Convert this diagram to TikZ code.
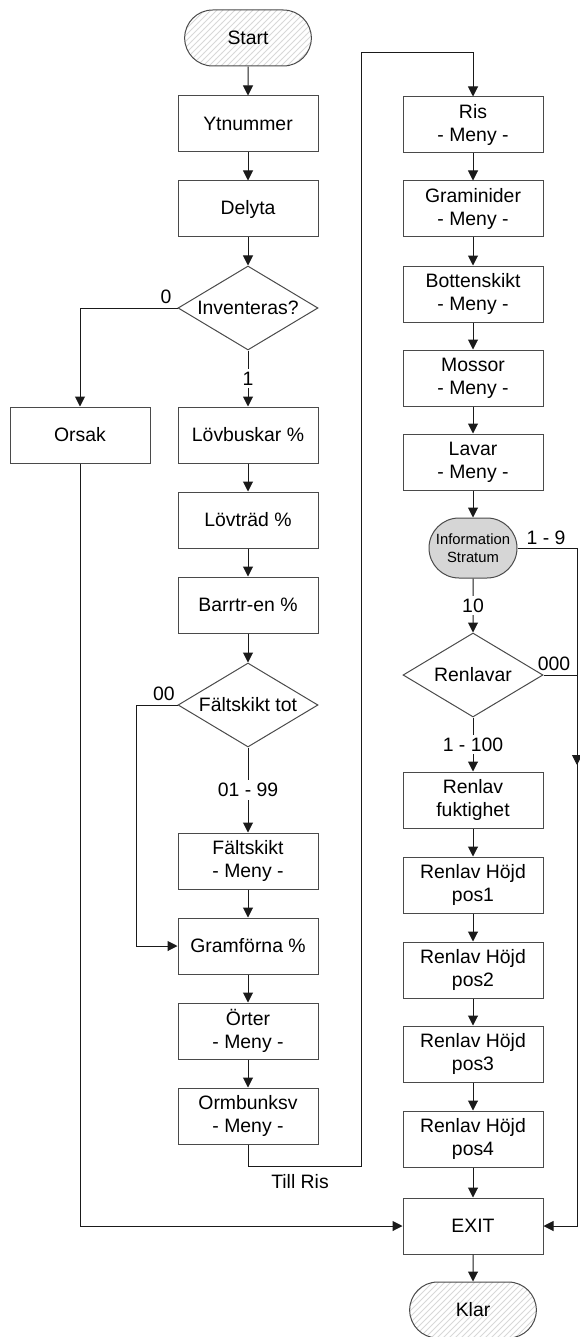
\documentclass[tikz,border=0pt]{standalone}
\usepackage{fontspec}
\setmainfont{Liberation Sans}
\usetikzlibrary{arrows.meta, shapes.geometric, shapes.misc, patterns}
\definecolor{cline}{HTML}{1A1A1A}
\definecolor{cedge}{HTML}{4A4A4A}
\definecolor{chatch}{HTML}{D8D8D8}
\definecolor{cinfo}{HTML}{D6D6D6}
\tikzset{
  every picture/.style={line width=0.5pt},
  every node/.style={font=\fontsize{9.7}{11.5}\selectfont},
  proc/.style={draw=cedge, rectangle, align=center, minimum width=70pt, minimum height=28pt, inner sep=1pt},
  term/.style={draw=cedge, rounded rectangle, pattern=north east lines, pattern color=chatch, minimum width=70pt, minimum height=28pt},
  info/.style={draw=cedge, rounded rectangle, fill=cinfo, align=center, minimum width=46pt, minimum height=30pt, inner sep=1pt, font=\fontsize{7.4}{9}\selectfont},
  dec/.style={draw=cedge, diamond, aspect=1.667, minimum width=70pt, minimum height=42pt, inner sep=0pt},
  arrow/.style={-{Triangle[length=5pt, width=5pt]}, draw=cline},
  lbl/.style={fill=white, inner sep=1.5pt},
}
\begin{document}
\begin{tikzpicture}[x=0.5pt, y=-0.5pt]
  \useasboundingbox (0,0) rectangle (579,1337);

  % left column
  \node[term] (start) at (248,38)   {Start};
  \node[proc] (ytn)   at (248,124)  {Ytnummer};
  \node[proc] (del)   at (248,209)  {Delyta};
  \node[dec]  (inv)   at (248,308)  {Inventeras?};
  \node[proc] (ors)   at (80,435)   {Orsak};
  \node[proc] (lbu)   at (248,435)  {Lövbuskar \%};
  \node[proc] (ltr)   at (248,520)  {Lövträd \%};
  \node[proc] (bar)   at (248,605)  {Barrtr-en \%};
  \node[dec]  (ftot)  at (248,705)  {Fältskikt tot};
  \node[proc] (fmen)  at (248,861)  {Fältskikt\\- Meny -};
  \node[proc] (gram)  at (248,946)  {Gramförna \%};
  \node[proc] (ort)   at (248,1031) {Örter\\- Meny -};
  \node[proc] (orm)   at (248,1116) {Ormbunksv\\- Meny -};

  % right column
  \node[proc] (ris)   at (473,125)  {Ris\\- Meny -};
  \node[proc] (gra)   at (473,209)  {Graminider\\- Meny -};
  \node[proc] (bot)   at (473,294)  {Bottenskikt\\- Meny -};
  \node[proc] (mos)   at (473,378)  {Mossor\\- Meny -};
  \node[proc] (lav)   at (473,462)  {Lavar\\- Meny -};
  \node[info] (inf)   at (473,548)  {Information\\Stratum};
  \node[dec]  (renl)  at (473,675)  {Renlavar};
  \node[proc] (rfuk)  at (473,800)  {Renlav\\fuktighet};
  \node[proc] (pos1)  at (473,885)  {Renlav Höjd\\pos1};
  \node[proc] (pos2)  at (473,970)  {Renlav Höjd\\pos2};
  \node[proc] (pos3)  at (473,1054) {Renlav Höjd\\pos3};
  \node[proc] (pos4)  at (473,1139) {Renlav Höjd\\pos4};
  \node[proc] (exit)  at (473,1226) {EXIT};
  \node[term] (klar)  at (473,1310) {Klar};

  % main flow
  \draw[arrow] (start) -- (ytn);
  \draw[arrow] (ytn) -- (del);
  \draw[arrow] (del) -- (inv);
  \draw[arrow] (inv) -- node[lbl] {1} (lbu);
  \draw[arrow] (inv.west) -| (ors.north);
  \node (l0) at (166,297) {0};
  \draw[arrow] (lbu) -- (ltr);
  \draw[arrow] (ltr) -- (bar);
  \draw[arrow] (bar) -- (ftot);
  \draw[arrow] (ftot) -- node[lbl] {01 - 99} (fmen);
  \draw[arrow] (ftot.west) -- ++(-41,0) |- (gram.west);
  \node (l00) at (164,694) {00};
  \draw[arrow] (fmen) -- (gram);
  \draw[arrow] (gram) -- (ort);
  \draw[arrow] (ort) -- (orm);

  % jump to Ris
  \coordinate (tr1) at (361,1166);
  \coordinate (tr2) at (361,53);
  \draw[arrow] (orm.south) |- (tr1) -- (tr2) -| (ris.north);
  \node (till) at (300,1182) {Till Ris};

  \draw[arrow] (ris) -- (gra);
  \draw[arrow] (gra) -- (bot);
  \draw[arrow] (bot) -- (mos);
  \draw[arrow] (mos) -- (lav);
  \draw[arrow] (lav) -- (inf);
  \draw[arrow] (inf) -- node[lbl] {10} (renl);
  \draw[arrow] (renl) -- node[lbl] {1 - 100} (rfuk);
  \draw[arrow] (rfuk) -- (pos1);
  \draw[arrow] (pos1) -- (pos2);
  \draw[arrow] (pos2) -- (pos3);
  \draw[arrow] (pos3) -- (pos4);
  \draw[arrow] (pos4) -- (exit);
  \draw[arrow] (exit) -- (klar);

  % side exits
  \coordinate (redge) at (577,1226);
  \coordinate (m000) at (577,765);
  \draw[arrow] (inf.east) -| (redge) -- (exit.east);
  \node (l19) at (546,538) {1 - 9};
  \draw[arrow] (renl.east) -| (m000);
  \node (l000) at (554,664) {000};
  \draw[arrow] (ors.south) |- (exit.west);
\end{tikzpicture}
\end{document}
